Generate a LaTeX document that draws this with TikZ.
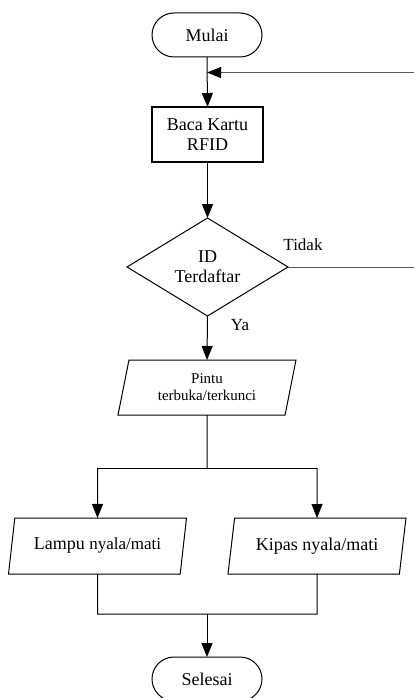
\documentclass[tikz,border=0pt]{standalone}
\usepackage{fontspec}
\setmainfont{Liberation Serif}
\usetikzlibrary{shapes.geometric,arrows.meta}
\begin{document}
\begin{tikzpicture}[x=1pt,y=-1pt,
  base/.style={draw=black,line width=1pt,outer sep=0pt,inner sep=0pt,align=center,font=\fontsize{18}{20}\selectfont},
  term/.style={base,rectangle,rounded corners=22pt,minimum width=110pt,minimum height=44pt},
  procbox/.style={base,rectangle,line width=2pt,minimum width=111pt,minimum height=55pt},
  decide/.style={base,diamond,aspect=1.64,minimum width=161pt,minimum height=98pt},
  io/.style={base,trapezium,trapezium left angle=68,trapezium right angle=112,trapezium stretches body,minimum width=178pt,minimum height=55pt},
  conn/.style={line width=1pt,draw=black},
  loopline/.style={line width=1pt,draw=black!65},
  arr/.style={-{Triangle[length=14pt,width=11pt,color=black]}},
  lbl/.style={font=\fontsize{17}{19}\selectfont,inner sep=0pt}
]
\useasboundingbox (0,0) rectangle (413,698);
\node[term] (mulai) at (207,35) {Mulai};
\node[procbox] (baca) at (207.5,134.5) {Baca Kartu\\RFID};
\node[decide] (id) at (207.5,267) {ID\\Terdaftar};
\node[io,font=\fontsize{15}{17}\selectfont] (pintu) at (207,387.5) {Pintu\\terbuka/terkunci};
\node[io,minimum height=56pt] (lampu) at (97.5,546) {Lampu {\fontsize{17}{19}\selectfont nyala/mati}};
\node[io,minimum height=56pt] (kipas) at (317,546) {Kipas nyala/mati};
\node[term] (selesai) at (207,679) {Selesai};

\coordinate (loopin) at (207,72.5);
\coordinate (r1) at (420,267);
\coordinate (r2) at (420,72.5);
\coordinate (split) at (207,468);
\coordinate (splitL) at (97.5,468);
\coordinate (splitR) at (317,468);
\coordinate (joinL) at (97.5,614);
\coordinate (joinR) at (317,614);
\coordinate (join) at (207,614);

\draw[conn,arr] (mulai.south) -- (baca.north);
\draw[loopline,arr] (id.east) -- (r1) -- (r2) -- (loopin);
\draw[conn,arr] (baca.south) -- (id.north);
\draw[conn,arr] (id.south) -- (pintu.north);
\node[lbl] (ya) at (240,325) {Ya};
\node[lbl] (tidak) at (303,245) {Tidak};
\draw[conn] (pintu.south) -- (split);
\draw[conn] (splitL) -- (splitR);
\draw[conn,arr] (splitL) -- (lampu.north);
\draw[conn,arr] (splitR) -- (kipas.north);
\draw[conn] (lampu.south) -- (joinL) -- (joinR) -- (kipas.south);
\draw[conn,arr] (join) -- (selesai.north);
\end{tikzpicture}
\end{document}
